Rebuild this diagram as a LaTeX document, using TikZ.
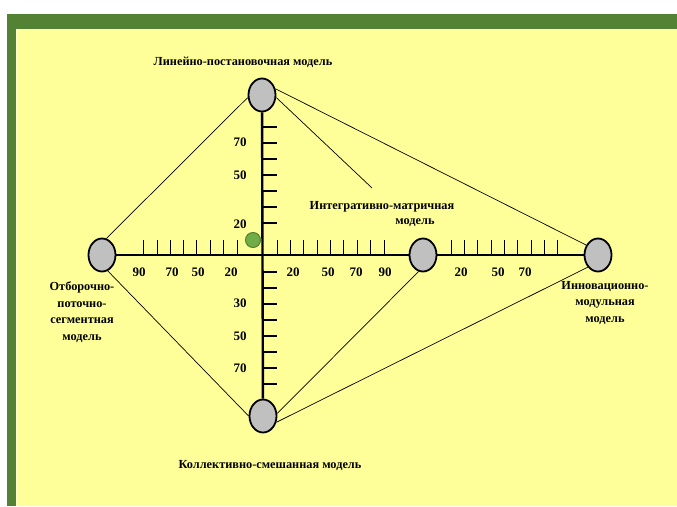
\documentclass[tikz,border=0pt]{standalone}
\usepackage{fontspec}
\setmainfont{Liberation Serif}
\usetikzlibrary{shapes.geometric}
\definecolor{framegreen}{RGB}{84,130,53}
\definecolor{paper}{RGB}{255,255,153}
\definecolor{modelgray}{RGB}{192,192,192}
\definecolor{dotgreen}{RGB}{112,173,71}
\begin{document}
\begin{tikzpicture}[
    x=1pt, y=-1pt,
    model/.style={ellipse, draw, line width=1.8pt, fill=modelgray, minimum width=27pt, minimum height=33pt, inner sep=0pt},
    dot/.style={circle, draw=framegreen, line width=1pt, fill=dotgreen, minimum size=15pt, inner sep=0pt},
    lbl/.style={font=\fontsize{12.3}{16.5}\selectfont\bfseries, inner sep=0pt, align=center},
    num/.style={font=\fontsize{13}{15}\selectfont\bfseries, inner sep=0pt},
    axis/.style={line width=2.4pt},
    tick/.style={line width=0.8pt},
    vtick/.style={line width=1.2pt},
    link/.style={line width=0.7pt}
]
\useasboundingbox (0,0) rectangle (677,506);

% ----- фон -----
\fill[white] (0,0) rectangle (677,506);
\fill[framegreen] (7,14) rectangle (677,506);
\fill[paper] (16,29) rectangle (677,506);
\draw[paper!50!white, line width=0.8pt] (16,506) -- (16,29) -- (677,29);

% ----- модели -----
\node[model] (lin) at (262,95) {};
\node[model] (otb) at (102,255) {};
\node[model] (int) at (423,255) {};
\node[model] (inn) at (598,255) {};
\node[model] (kol) at (263,416) {};
\node[dot] (pt) at (253,240) {};

\coordinate (intend) at (372,188);

% ----- оси -----
\draw[axis] (otb) -- (int);
\draw[axis] (int) -- (inn);
\draw[axis] (lin) -- (kol);

% ----- деления -----
\draw[tick] (143,240)--(143,254) (157,240)--(157,254) (170,240)--(170,254)
            (183,240)--(183,254) (196,240)--(196,254) (210,240)--(210,254)
            (223,240)--(223,254) (237,240)--(237,254);
\draw[tick] (277,240)--(277,254) (290,240)--(290,254) (303,240)--(303,254)
            (317,240)--(317,254) (330,240)--(330,254) (343,240)--(343,254)
            (357,240)--(357,254) (370,240)--(370,254) (384,240)--(384,254);
\draw[tick] (451,240)--(451,254) (464,240)--(464,254) (477,240)--(477,254)
            (491,240)--(491,254) (504,240)--(504,254) (517,240)--(517,254)
            (531,240)--(531,254) (544,240)--(544,254) (557,240)--(557,254);
\draw[vtick] (263,127)--(277,127) (263,143)--(277,143) (263,159)--(277,159)
             (263,175)--(277,175) (263,191)--(277,191) (263,207)--(277,207)
             (263,223)--(277,223);
\draw[vtick] (263,272)--(277,272) (263,288)--(277,288) (263,304)--(277,304)
             (263,320)--(277,320) (263,336)--(277,336) (263,352)--(277,352)
             (263,368)--(277,368) (263,384)--(277,384);

% ----- связи -----
\draw[link] (otb.75) -- (lin.190);
\draw[link] (lin.25) -- (inn.140);
\draw[link] (lin.-10) -- (intend);
\draw[link] (otb.-70) -- (kol.180);
\draw[link] (kol.10) -- (int.-105);
\draw[link] (kol.-25) -- (inn.-130);

% ----- числа -----
\node[num] (h90a) at (139,272) {90};
\node[num] (h70a) at (172,272) {70};
\node[num] (h50a) at (198,272) {50};
\node[num] (h20a) at (231,272) {20};
\node[num] (h20b) at (293,272) {20};
\node[num] (h50b) at (328,272) {50};
\node[num] (h70b) at (356,272) {70};
\node[num] (h90b) at (385,272) {90};
\node[num] (h20c) at (461,272) {20};
\node[num] (h50c) at (498,272) {50};
\node[num] (h70c) at (525,272) {70};
\node[num] (v70a) at (240,142) {70};
\node[num] (v50a) at (240,175) {50};
\node[num] (v20a) at (240,224) {20};
\node[num] (v30b) at (240,303) {30};
\node[num] (v50b) at (240,336) {50};
\node[num] (v70b) at (240,368) {70};

% ----- подписи -----
\node[lbl] (linlabel) at (243,62) {Линейно-постановочная модель};
\node[lbl] (intlabel) at (382,207) {Интегративно-матричная};
\node[lbl] (intlabel2) at (415,223) {модель};
\node[lbl] (otblabel) at (82,312) {Отборочно-\\поточно-\\сегментная\\модель};
\node[lbl] (innlabel) at (605,303) {Инновационно-\\модульная\\модель};
\node[lbl] (kollabel) at (270,466) {Коллективно-смешанная модель};

\end{tikzpicture}
\end{document}
